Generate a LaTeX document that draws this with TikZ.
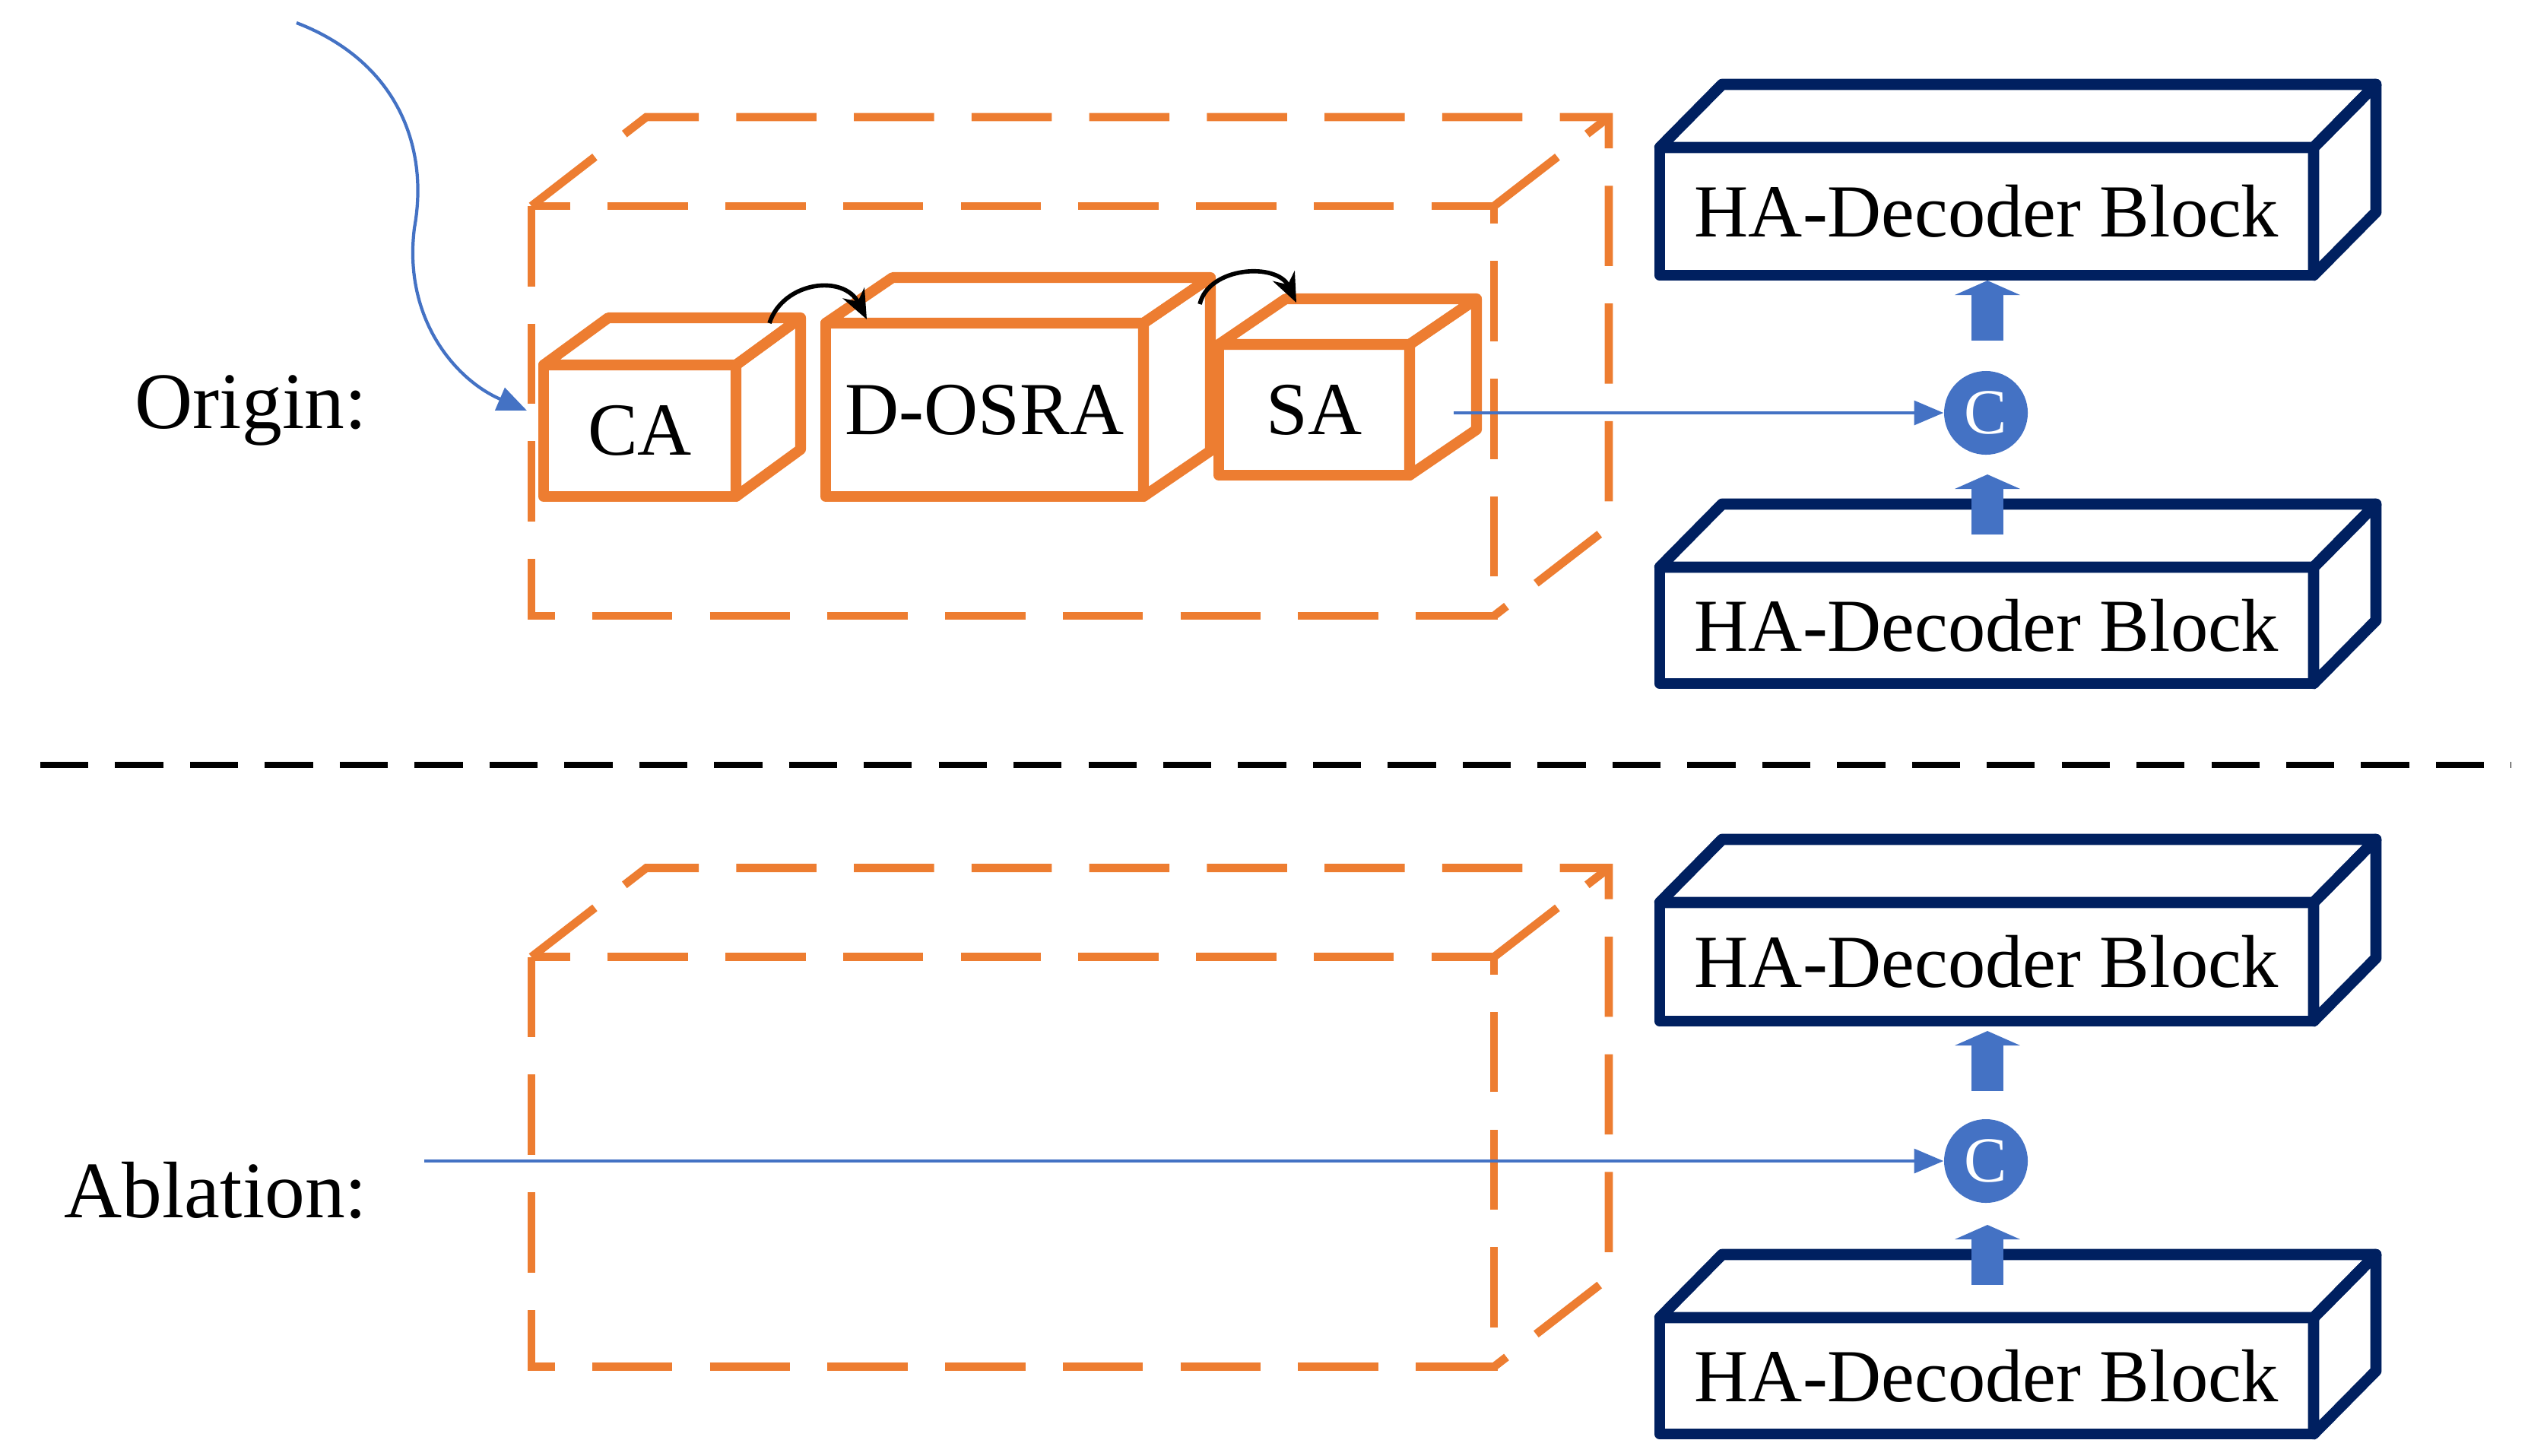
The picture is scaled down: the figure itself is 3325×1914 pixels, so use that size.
\documentclass[tikz,border=0pt]{standalone}
\usepackage{fontspec}
\setmainfont{Liberation Serif}
\usetikzlibrary{arrows.meta,calc}
\definecolor{myor}{HTML}{ED7D31}
\definecolor{myblue}{HTML}{4472C4}
\definecolor{mynavy}{HTML}{002060}
\newcommand\cubebox[9]{% style, name, x1,y1,x2,y2,dx,dy,text
  \fill[white] (#3,#4) -- ([shift={(#7,#8)}]#3,#4) -- ([shift={(#7,#8)}]#5,#4) -- ([shift={(#7,#8)}]#5,#6) -- (#5,#6) -- (#3,#6) -- cycle;
  \draw[#1] (#3,#4) -- ([shift={(#7,#8)}]#3,#4) -- ([shift={(#7,#8)}]#5,#4) -- (#5,#4) -- cycle;
  \draw[#1] (#5,#4) -- ([shift={(#7,#8)}]#5,#4) -- ([shift={(#7,#8)}]#5,#6) -- (#5,#6) -- cycle;
  \draw[#1] (#3,#4) rectangle (#5,#6);
  \node[font=\fontsize{28}{30}\selectfont] (#2) at ($(#3,#4)!0.5!(#5,#6)$) {#9};
}
\newcommand\bigdash[1]{% y offset
  \begin{scope}[yshift=#1]
  \draw[bigd] (699,271) rectangle (1965,810);
  \draw[bigd] (699,271) -- (850,154) -- (2116,154) -- (2116,693) -- (1965,810);
  \draw[bigd] (1965,271) -- (2116,154);
  \end{scope}
}
\newcommand\blockarrow[3]{% x, ybottom, ytip
  \fill[myblue] (#1-21,#2) rectangle (#1+21,#3+19);
  \fill[myblue] (#1-43,#3+19) -- (#1+43,#3+19) -- (#1,#3) -- cycle;
}
\begin{document}
\begin{tikzpicture}[x=0.01cm,y=-0.01cm,
  bigd/.style={myor,line width=3.1pt,dash pattern=on 30pt off 14pt,line join=miter},
  oc/.style={myor,line width=4pt,line join=round},
  nc/.style={mynavy,line width=4.2pt,line join=round},
  cc/.style={circle,fill=myblue,text=white,minimum size=1.1cm,inner sep=0pt,font=\fontsize{24}{24}\selectfont},
  lbl/.style={font=\fontsize{30}{32}\selectfont},
  bl/.style={myblue,line width=1.2pt,-{Triangle[length=11pt,width=9pt]}},
  bk/.style={black,line width=1.6pt,-{Stealth[length=11pt,width=9pt]}}]
\useasboundingbox (0,0) rectangle (3325,1914);
\bigdash{0}
\bigdash{-9.87cm}
\cubebox{oc}{ca}{715}{480}{968}{653}{85}{-62}{CA}
\cubebox{oc}{dosra}{1086}{425}{1504}{653}{88}{-60}{D-OSRA}
\cubebox{oc}{sa}{1603}{453}{1854}{625}{88}{-60}{SA}
\node[lbl] (origin) at (330,540) {Origin:};
\node[lbl] (ablation) at (284,1566) {Ablation:};
\cubebox{nc}{ha1}{2183}{194}{3043}{362}{82}{-83}{HA-Decoder Block}
\cubebox{nc}{ha2}{2183}{746}{3043}{899}{82}{-83}{HA-Decoder Block}
\cubebox{nc}{ha3}{2183}{1187}{3043}{1343}{82}{-83}{HA-Decoder Block}
\cubebox{nc}{ha4}{2183}{1733}{3043}{1886}{82}{-83}{HA-Decoder Block}
\node[cc] (c1) at (2612,543) {C};
\node[cc] (c2) at (2612,1527) {C};
\blockarrow{2614}{448}{369}
\blockarrow{2614}{703}{624}
\blockarrow{2614}{1435}{1356}
\blockarrow{2614}{1690}{1611}
\draw[black,line width=2.4pt,dash pattern=on 18pt off 10pt] (53,1006) -- (3303,1006);
\coordinate (in1) at (390,30);
\coordinate (in1e) at (693,540);
\draw[bl] (in1) .. controls (520,80) and (565,190) .. (545,300) .. controls (530,420) and (600,500) .. (in1e);
\coordinate (saout) at (1912,543);
\draw[bl] (saout) -- (c1);
\coordinate (abin) at (558,1527);
\draw[bl] (abin) -- (c2);
\coordinate (a1) at (1012,425);
\coordinate (a2) at (1140,420);
\coordinate (b1) at (1578,400);
\coordinate (b2) at (1705,398);
\draw[bk] (a1) .. controls (1030,370) and (1110,360) .. (a2);
\draw[bk] (b1) .. controls (1590,350) and (1680,345) .. (b2);
\end{tikzpicture}
\end{document}
